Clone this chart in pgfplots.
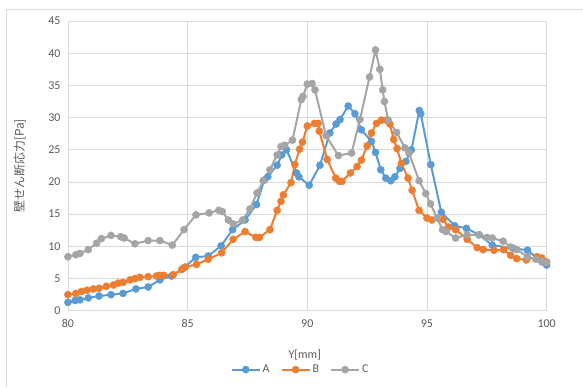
\documentclass[border=0pt]{standalone}
\usepackage{fontspec}
\setmainfont{Carlito}
\newfontfamily\jp{Noto Sans CJK JP}
\usepackage{pgfplots}
\pgfplotsset{compat=1.18}
\definecolor{cA}{HTML}{5B9BD5}
\definecolor{cB}{HTML}{ED7D31}
\definecolor{cC}{HTML}{A5A5A5}
\definecolor{gridc}{HTML}{D9D9D9}
\definecolor{txt}{HTML}{595959}
\begin{document}
\begin{tikzpicture}[x=1bp,y=1bp]
\path (0,0) rectangle (583,387);
\draw[gridc, line width=0.8bp] (6,0) -- (6,378) -- (583,378);
\begin{axis}[
  at={(68bp,76bp)}, anchor=south west,
  scale only axis, width=479bp, height=290bp,
  xmin=80, xmax=100, ymin=0, ymax=45,
  xtick={80,85,...,100}, ytick={0,5,...,45},
  grid=major, major grid style={draw=gridc, line width=0.8bp},
  axis line style={draw=gridc, line width=0.8bp},
  tick style={draw=none},
  ticklabel style={font=\fontsize{12}{14}\selectfont, text=txt},
  yticklabel style={xshift=-4bp},
  xticklabel style={yshift=-5bp},
  /pgf/number format/assume math mode=true,
  legend columns=3,
  legend style={at={(0.486,-0.203)}, anchor=center, draw=none, fill=none,
    font=\fontsize{12}{14}\selectfont, text=txt,
    /tikz/every even column/.append style={column sep=9bp}},
  legend image code/.code={\draw[mark repeat=2,mark phase=2] plot coordinates {(0bp,0bp) (14bp,0bp) (28bp,0bp)};},
  every axis plot/.append style={line width=2bp, mark=*, mark size=3.6bp},
]
\addplot[color=cA, mark options={solid, fill=cA, draw=cA, line width=0.4bp}] coordinates {
(80.0,1.3) (80.3,1.6) (80.5,1.7) (80.85,2.0) (81.3,2.3) (81.8,2.5) (82.3,2.7) (82.84,3.4)
(83.35,3.7) (83.84,4.8) (84.33,5.4) (84.82,6.6) (85.34,8.3) (85.86,8.5) (86.4,10.1) (86.88,12.6)
(87.4,14.1) (87.88,16.5) (88.2,20.3) (88.35,20.8) (88.74,22.6) (88.93,24.2) (89.13,25.0) (89.55,21.4)
(89.65,20.8) (90.08,19.5) (90.53,22.6) (90.94,27.6) (91.2,29.0) (91.37,29.7) (91.71,31.8) (91.99,30.6)
(92.26,28.1) (92.68,26.3) (92.85,24.6) (93.07,21.9) (93.28,20.6) (93.49,20.2) (93.66,20.8) (93.87,22.1)
(94.12,23.2) (94.35,25.0) (94.68,31.1) (94.74,30.6) (95.16,22.7) (95.6,15.3) (96.16,13.2) (96.65,12.8)
(97.18,11.8) (97.73,10.2) (98.6,9.7) (99.2,9.4) (99.8,7.6) (100,7.1)
};
\addlegendentry{A}
\addplot[color=cB, mark options={solid, fill=cB, draw=cB, line width=0.4bp}] coordinates {
(80.0,2.5) (80.33,2.7) (80.57,3.0) (80.8,3.2) (81.06,3.4) (81.3,3.5) (81.6,3.8) (81.9,4.0)
(82.1,4.3) (82.3,4.4) (82.6,4.8) (82.8,5.0) (83.0,5.2) (83.35,5.3) (83.7,5.4) (83.84,5.5)
(84.0,5.5) (84.4,5.6) (84.75,6.4) (84.9,6.8) (85.37,7.2) (85.86,8.0) (86.42,9.0) (86.9,11.1)
(87.4,12.3) (87.85,11.4) (88.0,11.4) (88.44,12.6) (88.74,15.6) (88.9,17.0) (89.0,18.0) (89.32,19.9)
(89.48,22.7) (89.68,25.1) (89.8,26.2) (90.0,28.7) (90.3,29.1) (90.45,29.1) (90.5,27.9) (90.83,23.5)
(91.19,20.6) (91.35,20.1) (91.45,20.1) (91.8,21.4) (92.08,22.4) (92.26,23.4) (92.5,25.6) (92.68,27.6)
(92.89,29.1) (93.1,29.6) (93.3,29.6) (93.45,29.0) (93.61,26.6) (93.75,25.2) (93.93,22.9) (94.21,20.6)
(94.38,18.7) (94.67,15.6) (95.0,14.4) (95.2,14.1) (95.67,14.2) (95.9,13.0) (96.2,12.6) (96.68,11.1)
(97.1,9.8) (97.35,9.5) (97.8,9.4) (98.2,9.5) (98.5,8.6) (98.75,8.1) (99.15,7.9) (99.6,8.4)
(99.8,8.2) (100,7.6)
};
\addlegendentry{B}
\addplot[color=cC, mark options={solid, fill=cC, draw=cC, line width=0.4bp}] coordinates {
(80.0,8.4) (80.33,8.7) (80.5,8.9) (80.85,9.5) (81.2,10.5) (81.4,11.2) (81.8,11.7) (82.2,11.5)
(82.35,11.3) (82.8,10.4) (83.35,10.9) (83.84,10.9) (84.36,10.2) (84.85,12.6) (85.35,14.9) (85.9,15.2)
(86.3,15.6) (86.45,15.4) (86.7,14.1) (86.9,13.5) (87.3,14.1) (87.6,15.8) (87.9,18.3) (88.16,20.2)
(88.44,21.9) (88.74,24.2) (88.9,25.5) (89.05,25.7) (89.38,26.5) (89.75,32.8) (89.82,33.3) (90.0,35.2)
(90.2,35.3) (90.32,34.3) (90.78,27.2) (91.3,24.1) (91.85,24.5) (92.2,29.7) (92.6,36.3) (92.85,40.5)
(93.03,37.5) (93.15,34.3) (93.22,32.5) (93.38,29.6) (93.73,27.7) (94.08,25.3) (94.25,24.5) (94.67,20.2)
(94.95,18.2) (95.15,16.6) (95.42,14.4) (95.65,12.6) (95.8,12.3) (96.2,11.3) (96.68,11.8) (97.18,11.8)
(97.5,11.4) (97.73,11.3) (98.18,10.8) (98.5,9.9) (98.75,9.5) (99.2,8.4) (99.55,8.0) (99.8,7.7)
(100,7.5)
};
\addlegendentry{C}
\end{axis}
\node[text=txt, font=\fontsize{12}{14}\selectfont] at (305,32) {Y[mm]};
\node[text=txt, font=\jp\fontsize{12}{14}\selectfont, rotate=90] at (20,221) {壁せん断応力[Pa]};
\end{tikzpicture}
\end{document}
